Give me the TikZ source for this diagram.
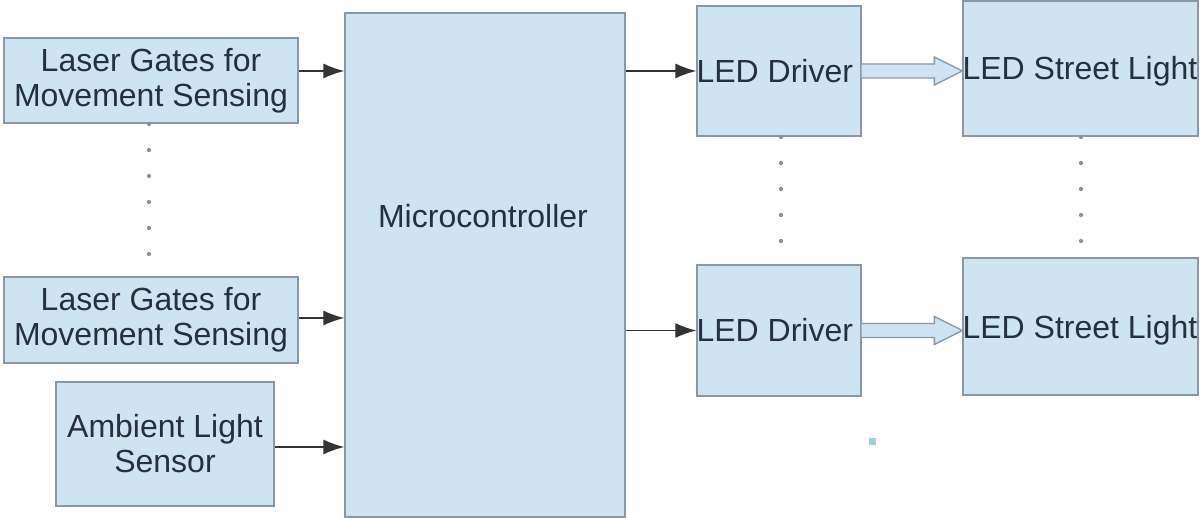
\documentclass[tikz,border=0pt]{standalone}
\usepackage{fontspec}
\setmainfont{Liberation Sans}
\usetikzlibrary{arrows.meta,calc}
\definecolor{boxfill}{HTML}{CFE4F2}
\definecolor{boxline}{HTML}{8A98A5}
\definecolor{txtcol}{HTML}{25313C}
\definecolor{dotcol}{HTML}{8A9096}
\definecolor{speck}{HTML}{A9CBE0}
\begin{document}
\begin{tikzpicture}[x=1pt,y=-1pt,
  font=\fontsize{32}{35}\selectfont, text=txtcol,
  box/.style={draw=boxline, fill=boxfill, line width=1.3pt, inner sep=0pt, align=center},
  lbl/.style={inner sep=0pt, anchor=west},
  arr/.style={draw=black!80, line width=1.5pt, -{Latex[length=21pt,width=15pt]}},
  hollow/.style={draw=boxline, fill=boxfill, line width=1.3pt, line join=miter},
  dotstyle/.style={fill=dotcol}]
\fill[white] (0,0) rectangle (1201,518);
\useasboundingbox (0,0) rectangle (1201,518);

% left column
\node[box, minimum width=294pt, minimum height=85pt] (lg1) at (151,80.5) {Laser Gates for\\Movement Sensing};
\node[box, minimum width=294pt, minimum height=86pt] (lg2) at (151,320) {Laser Gates for\\Movement Sensing};
\node[box, minimum width=218pt, minimum height=124pt] (amb) at (165,444) {Ambient Light\\Sensor};

% microcontroller
\node[box, minimum width=280pt, minimum height=504pt] (mc) at (485,265) {};
\node[inner sep=0pt] (mct) at (483,216) {Microcontroller};

% drivers
\node[box, minimum width=164pt, minimum height=130pt] (d1) at (779,71) {};
\node[lbl] (d1t) at (d1.west) {LED Driver};
\node[box, minimum width=164pt, minimum height=131pt] (d2) at (779,330.5) {};
\node[lbl] (d2t) at (d2.west) {LED Driver};

% street lights
\node[box, minimum width=235pt, minimum height=135pt] (s1) at (1080.5,68.5) {};
\node[lbl] (s1t) at (s1.west |- d1.west) {LED Street Light};
\node[box, minimum width=235pt, minimum height=137pt] (s2) at (1080.5,326.5) {};
\node[lbl] (s2t) at (s2.west |- d2.west) {LED Street Light};

% input arrows
\coordinate (a1) at ([yshift=9.5pt]lg1.east);
\coordinate (a2) at ([yshift=2pt]lg2.east);
\coordinate (a3) at ([yshift=-3pt]amb.east);
\draw[arr] (a1) -- (a1 -| mc.west);
\draw[arr] (a2) -- (a2 -| mc.west);
\draw[arr] (a3) -- (a3 -| mc.west);

% output arrows
\draw[arr] (d1.west -| mc.east) -- (d1.west);
\draw[arr] (d2.west -| mc.east) -- (d2.west);

% hollow block arrows
\foreach \d/\s in {d1/s1, d2/s2}{
  \coordinate (ha) at (\d.east);
  \coordinate (hb) at (\d.east -| \s.west);
  \draw[hollow] ($(ha)+(0,-7)$) -- ($(hb)+(-28,-7)$) -- ($(hb)+(-28,-14)$) -- (hb)
     -- ($(hb)+(-28,14)$) -- ($(hb)+(-28,7)$) -- ($(ha)+(0,7)$);
}

% continuation dots
\foreach \y in {124,150,176,202,228,254} \fill[dotstyle] (149,\y) circle (2.1pt);
\foreach \y in {137,163,189,215,241} {
  \fill[dotstyle] (781,\y) circle (2.1pt);
  \fill[dotstyle] (1081,\y) circle (2.1pt);
}

% small speck
\fill[speck] (868.5,437.5) rectangle (875.5,444.5);
\end{tikzpicture}
\end{document}
